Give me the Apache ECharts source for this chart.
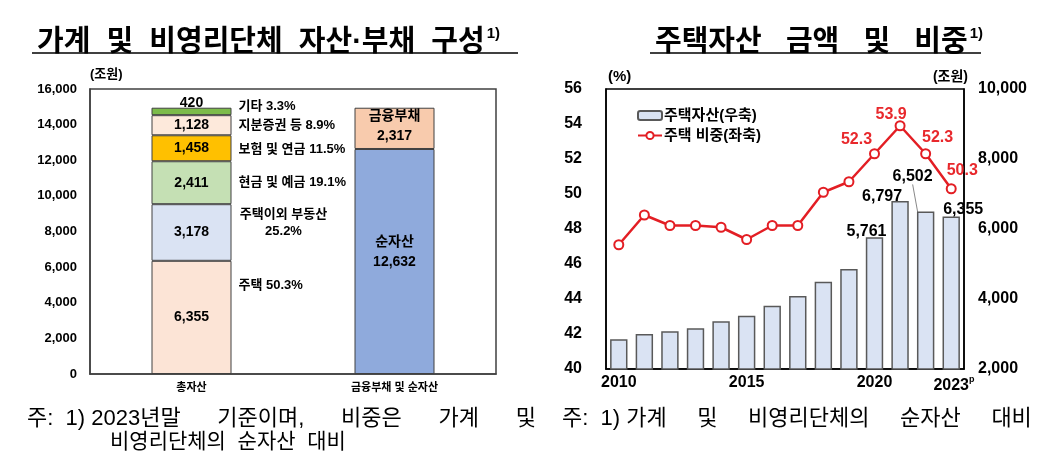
<!DOCTYPE html>
<html>
<head>
<meta charset="utf-8">
<script src="https://cdn.jsdelivr.net/npm/echarts@6/dist/echarts.min.js"></script>
<style>
html,body{margin:0;padding:0;background:#fff;}
#chart{width:1061px;height:473px;}
</style>
</head>
<body>
<div id="chart"></div>
<script>
// ---- data ----
const leftCategories = ['총자산', '금융부채 및 순자산'];
const assetNames = ['주택', '주택이외 부동산', '현금 및 예금', '보험 및 연금', '지분증권 등', '기타'];
const assetValues = [6355, 3178, 2411, 1458, 1128, 420];
const assetShares = [50.3, 25.2, 19.1, 11.5, 8.9, 3.3];
const fundingNames = ['순자산', '금융부채'];
const fundingValues = [12632, 2317];
const leftTicks = [0, 2000, 4000, 6000, 8000, 10000, 12000, 14000, 16000];

const years = ['2010','2011','2012','2013','2014','2015','2016','2017','2018','2019','2020','2021','2022','2023'];
const housingAssets = [2850, 3000, 3077, 3162, 3362, 3524, 3810, 4086, 4495, 4857, 5761, 6797, 6502, 6355];
const housingShare = [47.1, 48.8, 48.2, 48.2, 48.1, 47.4, 48.2, 48.2, 50.1, 50.7, 52.3, 53.9, 52.3, 50.3];
const shownYearLabels = ['2010', '2015', '2020', '2023'];
const labeledYears = ['2020', '2021', '2022', '2023'];

const titleLeft = '가계  및  비영리단체  자산·부채  구성';
const titleRight = '주택자산   금액   및   비중';
const noteLeft1 = '주:  1) 2023년말      기준이며,      비중은      가계      및';
const noteLeft2 = '비영리단체의  순자산  대비';
const noteRight = '주:  1) 가계     및     비영리단체의     순자산     대비';

// ---- styles ----
const FONT = "'Liberation Sans', Arial, 'Noto Sans CJK KR', sans-serif";
const assetColors = ['#FCE4D6', '#DAE3F3', '#C5E0B4', '#FFC000', '#FDE9DB', '#7CBB4A'];
const fundingColors = ['#8FAADC', '#F8CBAD'];
const border = '#404040';

const fmt = v => v.toLocaleString('en-US');

// left: stacked bars
const series = [];
const valueLabelOffsets = [[0,0],[0,0],[0,0],[0,0],[0,0],[0,-8]];
assetNames.forEach((n, i) => {
  series.push({
    type: 'bar', name: n, xAxisIndex: 0, yAxisIndex: 0, stack: 'total',
    barWidth: 80, barGap: '-100%',
    data: [assetValues[i], '-'],
    itemStyle: { color: assetColors[i], borderColor: border, borderWidth: 1 },
    label: { show: true, position: 'inside', formatter: p => fmt(p.value), offset: valueLabelOffsets[i],
      fontFamily: FONT, fontWeight: 'bold', fontSize: 14, color: '#000' },
    silent: true
  });
});
fundingNames.forEach((n, i) => {
  series.push({
    type: 'bar', name: n, xAxisIndex: 0, yAxisIndex: 0, stack: 'total',
    barWidth: 80, barGap: '-100%',
    data: ['-', fundingValues[i]],
    itemStyle: { color: fundingColors[i], borderColor: border, borderWidth: 1 },
    label: { show: true, position: 'inside', formatter: p => n + '\n' + fmt(p.value), offset: i === 0 ? [0, -9] : [0, -2],
      fontFamily: FONT, fontWeight: 'bold', fontSize: 14, color: '#000', lineHeight: 20 },
    silent: true
  });
});
// transparent overlay stack carrying the side category labels
const sideOffsets = [[0, -32], [45, -10], [0, 0], [0, 1], [0, 0], [0, -5]];
assetNames.forEach((n, i) => {
  const txt = i === 1 ? n + '\n' + assetShares[i].toFixed(1) + '%' : n + ' ' + assetShares[i].toFixed(1) + '%';
  series.push({
    type: 'bar', name: n + '_lbl', xAxisIndex: 0, yAxisIndex: 0, stack: 'labels',
    barWidth: 80, barGap: '-100%',
    data: [assetValues[i], '-'],
    itemStyle: { color: 'rgba(0,0,0,0)', borderWidth: 0 },
    label: { show: true, position: 'right', distance: 7, formatter: () => txt, offset: sideOffsets[i],
      align: i === 1 ? 'center' : 'left',
      fontFamily: FONT, fontWeight: 'bold', fontSize: 13, color: '#000', lineHeight: 17 },
    silent: true, z: 5
  });
});

// right: bars + line
const barLabelShift = { '2020': [-8, 7], '2021': [-18, 8], '2022': [-13, -22], '2023': [12, 6] };
series.push({
  type: 'bar', name: '주택자산(우축)', xAxisIndex: 1, yAxisIndex: 2, barWidth: '68%',
  data: housingAssets.map((v, i) => {
    const y = years[i];
    const d = { value: v };
    if (labeledYears.includes(y)) {
      d.label = { show: true, position: 'top' };
      if (y === '2022') d.labelLine = { show: true, lineStyle: { color: '#888', width: 1 } };
    }
    return d;
  }),
  itemStyle: { color: '#DAE3F3', borderColor: '#595959', borderWidth: 1.5 },
  label: { show: false, formatter: p => fmt(p.value), fontFamily: FONT, fontWeight: 'bold', fontSize: 16, color: '#000' },
  labelLayout: p => {
    const s = barLabelShift[years[p.dataIndex]];
    return s ? { dx: s[0], dy: s[1] } : {};
  },
  labelLine: { show: false }
});
const lineLabelOffsets = { '2020': [-18, 5], '2021': [-9, 8], '2022': [12, 3], '2023': [11, 1] };
series.push({
  type: 'line', name: '주택 비중(좌축)', xAxisIndex: 1, yAxisIndex: 1,
  data: housingShare.map((v, i) => {
    const y = years[i];
    const d = { value: v };
    if (labeledYears.includes(y)) {
      d.label = { show: true, position: 'top', offset: lineLabelOffsets[y] };
    }
    return d;
  }),
  symbol: 'emptyCircle', symbolSize: 9,
  lineStyle: { color: '#E31E24', width: 2.5 },
  itemStyle: { color: '#E31E24', borderWidth: 1.5 },
  label: { show: false, distance: 6, fontFamily: FONT, fontWeight: 'bold', fontSize: 16, color: '#E8282C' },
  z: 10
});

const axisLabelBold = (size) => ({ fontFamily: FONT, fontWeight: 'bold', fontSize: size, color: '#000' });
const titleStyle = {
  fontFamily: FONT, fontWeight: 'bold', fontSize: 29, color: '#000', lineHeight: 34,
  rich: {
    s: { fontFamily: FONT, fontWeight: 'bold', fontSize: 15, color: '#000', verticalAlign: 'top', lineHeight: 16, padding: [0, 0, 0, 2] }
  }
};

const option = {
  animation: false,
  backgroundColor: '#fff',
  title: [
    { text: titleLeft + '{s|1)}', left: 32, top: 21, textStyle: titleStyle },
    { text: titleRight + '{s|1)}', left: 650, top: 21, textStyle: titleStyle }
  ],
  legend: {
    data: ['주택자산(우축)', '주택 비중(좌축)'],
    orient: 'vertical', left: 632, top: 103, itemWidth: 24, itemHeight: 9, itemGap: 5,
    textStyle: { fontFamily: FONT, fontWeight: 'bold', fontSize: 15, color: '#000', padding: [0, 0, 0, -3] },
    selectedMode: false
  },
  grid: [
    { left: 90, right: 565, top: 89, bottom: 99, show: true, borderColor: border, borderWidth: 1.5, backgroundColor: 'transparent' },
    { left: 606, right: 97, top: 89, bottom: 104, show: true, borderColor: '#000', borderWidth: 1.5, backgroundColor: 'transparent' }
  ],
  xAxis: [
    { type: 'category', gridIndex: 0, data: leftCategories,
      axisLine: { lineStyle: { color: border, width: 1.5 } }, axisTick: { show: false },
      axisLabel: Object.assign(axisLabelBold(11), { margin: 8 }) },
    { type: 'category', gridIndex: 1, data: years,
      axisLine: { lineStyle: { color: '#000', width: 1.5 } }, axisTick: { show: false },
      axisLabel: Object.assign(axisLabelBold(16), { margin: 6,
        interval: (idx, val) => shownYearLabels.includes(val),
        formatter: v => v === '2023' ? '{h|p}' + v + '{p|p}' : v,
        rich: {
          p: { fontFamily: FONT, fontSize: 9, color: '#000', padding: [0, 0, 12, 0] },
          h: { fontFamily: FONT, fontSize: 9, color: 'rgba(0,0,0,0)', padding: [0, 0, 12, 0] }
        } }) }
  ],
  yAxis: [
    { type: 'value', gridIndex: 0, min: leftTicks[0], max: leftTicks[leftTicks.length - 1], interval: 2000,
      name: '(조원)', nameLocation: 'end', nameGap: 8,
      nameTextStyle: { fontFamily: FONT, fontWeight: 'bold', fontSize: 13, color: '#000', align: 'left', padding: [0, 0, 0, 0] },
      axisLine: { show: true, lineStyle: { color: border, width: 1.5 } }, axisTick: { show: false }, splitLine: { show: false },
      axisLabel: Object.assign(axisLabelBold(13), { margin: 13, formatter: v => fmt(v) }) },
    { type: 'value', gridIndex: 1, min: 40, max: 56, interval: 2,
      name: '(%)', nameLocation: 'end', nameGap: 5,
      nameTextStyle: { fontFamily: FONT, fontWeight: 'bold', fontSize: 15, color: '#000', align: 'left', padding: [0, 0, 0, 2] },
      axisLine: { show: true, lineStyle: { color: '#000', width: 1.5 } }, axisTick: { show: false }, splitLine: { show: false },
      axisLabel: Object.assign(axisLabelBold(16), { margin: 24 }) },
    { type: 'value', gridIndex: 1, position: 'right', min: 2000, max: 10000, interval: 2000,
      name: '(조원)', nameLocation: 'end', nameGap: 5,
      nameTextStyle: { fontFamily: FONT, fontWeight: 'bold', fontSize: 14, color: '#000', align: 'right', padding: [0, -4, 0, 0] },
      axisLine: { show: true, lineStyle: { color: '#000', width: 1.5 } }, axisTick: { show: false }, splitLine: { show: false },
      axisLabel: Object.assign(axisLabelBold(16), { margin: 14, formatter: v => fmt(v) }) }
  ],
  graphic: [
    { type: 'line', shape: { x1: 32, y1: 53, x2: 518, y2: 53 }, style: { stroke: '#000', lineWidth: 1.5 } },
    { type: 'line', shape: { x1: 650, y1: 53, x2: 981, y2: 53 }, style: { stroke: '#000', lineWidth: 1.5 } },
    { type: 'text', left: 27, top: 408, style: { text: noteLeft1, fontFamily: FONT, fontSize: 22, fill: '#000' } },
    { type: 'text', left: 110, top: 432, style: { text: noteLeft2, fontFamily: FONT, fontSize: 21, fill: '#000' } },
    { type: 'text', left: 562, top: 408, style: { text: noteRight, fontFamily: FONT, fontSize: 22, fill: '#000' } }
  ],
  series: series
};

const chart = echarts.init(document.getElementById('chart'), null, { renderer: 'canvas' });
chart.setOption(option);
</script>
</body>
</html>
